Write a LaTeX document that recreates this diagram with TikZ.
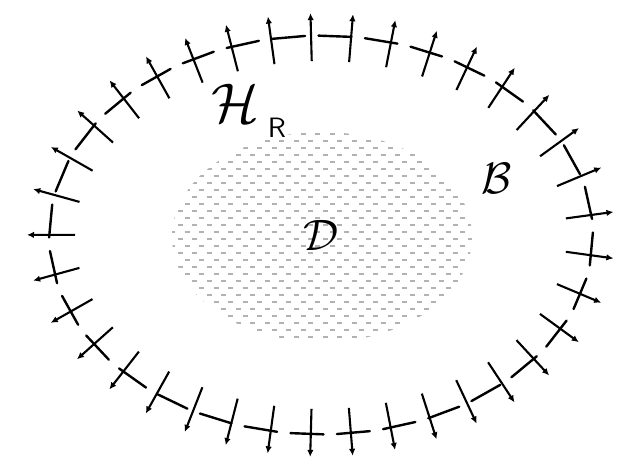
\documentclass[tikz,border=0pt]{standalone}
\usetikzlibrary{decorations.markings,arrows.meta}
\begin{document}
\begin{tikzpicture}[x=1pt,y=1pt,
  seg/.style={line width=2.4pt, line cap=round},
  nrm/.style={line width=2.1pt, -{Latex[length=7pt,width=6.5pt]}},
  dotrow/.style={draw=black!30, line width=1.3pt, dash pattern=on 5pt off 9.5pt},
  lbl/.style={inner sep=0pt}]
\useasboundingbox (0,0) rectangle (619,469);
\coordinate (c) at (321,234);
% region D
\begin{scope}
  \clip (322,232) ellipse [x radius=150, y radius=105];
  \foreach \i in {0,...,31} {
    \pgfmathsetmacro{\yy}{125+7*\i}
    \pgfmathsetmacro{\ph}{mod(\i,2)*7}
    \draw[dotrow, dash phase=\ph pt] (170,\yy) -- (475,\yy);
  }
\end{scope}
% boundary H_R: tangent pieces
\path[decorate, decoration={markings,
  mark=between positions 0.0218 and 0.995 step 0.03125 with {\draw[seg] (-16.5,0) -- (16.5,0);}}]
  (c) ellipse [x radius=271, y radius=199];
% boundary H_R: outward normals
\path[decorate, decoration={markings,
  mark=between positions 0.01347 and 0.995 step 0.027027 with {\draw[nrm] (0,25) -- (0,-23);}}]
  (c) ellipse [x radius=271, y radius=199];
% labels
\node[lbl, scale=5.6] (H) at (235,366) {$\mathcal{H}$};
\node[lbl, scale=2.8, font=\sffamily] (R) at (277,341) {R};
\node[lbl, scale=4.4] (B) at (497,291) {$\mathcal{B}$};
\node[lbl, scale=4.4] (D) at (321,234) {$\mathcal{D}$};
\end{tikzpicture}
\end{document}
